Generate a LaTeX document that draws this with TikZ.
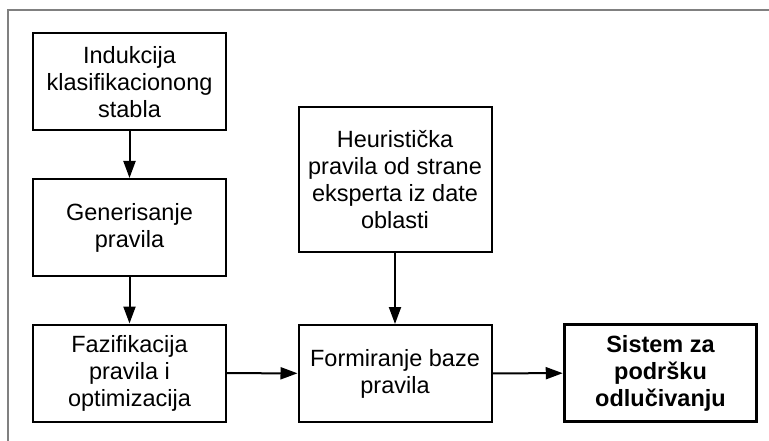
\documentclass[tikz,border=0pt]{standalone}
\usepackage{fontspec}
\setmainfont{Liberation Sans}
\usetikzlibrary{arrows.meta}
\begin{document}
\begin{tikzpicture}[x=1pt,y=-1pt,
  box/.style={draw=black,line width=2pt,minimum width=193pt,minimum height=97pt,
    align=center,inner sep=0pt,font=\fontsize{23.5pt}{27pt}\selectfont},
  boldbox/.style={box,line width=3.5pt,font=\fontsize{23.5pt}{27pt}\selectfont\bfseries},
  conn/.style={line width=2pt,-{Triangle[length=17pt,width=12pt]}}]
\useasboundingbox (0,0) rectangle (769,441);
\draw[gray,line width=2pt] (8,441) -- (8,10) -- (769,10);
\node[box] (ind) at (129.5,82) {Indukcija\\klasifikacionong\\stabla};
\node[box] (gen) at (129.5,227.5) {Generisanje\\pravila};
\node[box] (faz) at (129.5,373) {Fazifikacija\\pravila i\\optimizacija};
\node[box,minimum height=145pt] (heu) at (395,179.5) {Heuristička\\pravila od strane\\eksperta iz date\\oblasti};
\node[box] (frm) at (395,373.5) {Formiranje baze\\pravila};
\node[boldbox,minimum width=192pt] (sis) at (660.5,373) {Sistem za\\podršku\\odlučivanju};
\draw[conn] (ind) -- (gen);
\draw[conn] (gen) -- (faz);
\draw[conn] (heu) -- (frm);
\draw[conn] (faz) -- (frm);
\draw[conn] (frm) -- (sis);
\end{tikzpicture}
\end{document}
